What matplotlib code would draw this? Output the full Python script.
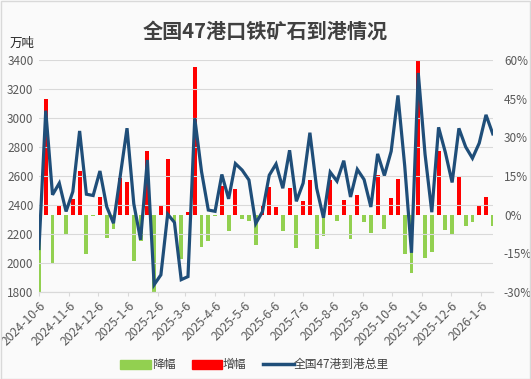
import matplotlib
matplotlib.use("Agg")
import matplotlib.pyplot as plt
from matplotlib.patches import Rectangle
from matplotlib.lines import Line2D
import pandas as pd

plt.rcParams['font.family'] = ['Noto Sans CJK SC', 'DejaVu Sans']
plt.rcParams['axes.unicode_minus'] = False

# weekly, starting 2024-10-6
weeks = pd.date_range('2024-10-06', periods=68, freq='7D')

# 全国47港到港总量 (万吨)
total = [2100, 3050, 2470, 2550, 2355, 2492, 2910, 2474, 2465, 2634,
         2388, 2274, 2600, 2929, 2408, 2160, 2710, 1850, 1918, 2336,
         2280, 1885, 1906, 2998, 2630, 2365, 2356, 2610, 2442, 2685,
         2640, 2572, 2272, 2354, 2605, 2682, 2515, 2777, 2425, 2550,
         2898, 2515, 2312, 2626, 2564, 2705, 2455, 2645, 2575, 2386,
         2752, 2603, 2770, 3155, 2669, 2070, 3310, 2750, 2350, 2935,
         2762, 2555, 2928, 2800, 2722, 2826, 3021, 2890]

# 环比 (%)
change = [-30, 45, -19, 3.2, -7.7, 6, 17, -15.2, -0.5, 6.8,
          -9.2, -5.5, 14.2, 12.7, -17.8, -10.4, 24.5, -32, 3.7, 21.6,
          -2.6, -17.4, 1.2, 57.4, -12.4, -10.2, -0.5, 11, -6.5, 9.8,
          -1.7, -2.6, -11.7, 3.5, 10.7, 3, -6.3, 10.3, -12.8, 5.2,
          13.6, -13.3, -8.2, 13.5, -2.4, 5.5, -9.3, 7.7, -2.9, -7.3,
          15.3, -5.4, 6.4, 13.9, -15.4, -22.5, 59.8, -16.9, -14.5, 24.6,
          -5.9, -7.5, 14.6, -4.4, -2.8, 3.8, 6.9, -4.3]

left_ticks = [1800, 2000, 2200, 2400, 2600, 2800, 3000, 3200, 3400]
right_ticks = [-30, -15, 0, 15, 30, 45, 60]
month_ticks = pd.date_range('2024-10-01', '2026-01-01', freq='MS') + pd.Timedelta(days=5)

bg = '#FAFAFA'
txt = '#595959'
green = '#92D050'
red = '#FF0000'
navy = '#1F4E79'

fig = plt.figure(figsize=(5.31, 3.79), dpi=100, facecolor=bg)
ax = fig.add_axes([0.0734, 0.2296, 0.8546, 0.6124])
ax2 = ax.twinx()

up = [c if c > 0 else 0 for c in change]
down = [c if c < 0 else 0 for c in change]
ax2.bar(weeks, down, width=4, color=green, label='降幅')
ax2.bar(weeks, up, width=4, color=red, label='增幅')
ax2.set_ylim(-30, 60)
ax2.set_yticks(right_ticks)
ax2.set_yticklabels([f'{t}%' for t in right_ticks])

ax.plot(weeks, total, color=navy, lw=2.3, solid_joinstyle='miter', label='全国47港到港总里')
ax.set_ylim(1800, 3400)
ax.set_yticks(left_ticks)
ax.grid(axis='y', color='#D9D9D9', lw=0.8)
ax.set_zorder(ax2.get_zorder() + 1)
ax.patch.set_visible(False)
ax2.set_facecolor(bg)

ax.set_xlim(weeks[0], weeks[-1])
ax.set_xticks(month_ticks)
ax.set_xticklabels([f'{d.year}-{d.month}-{d.day}' for d in month_ticks],
                   rotation=45, ha='right', rotation_mode='anchor')

for a in (ax, ax2):
    for s in ('left', 'right', 'top'):
        a.spines[s].set_visible(False)
    a.spines['bottom'].set_color('#D9D9D9')
    a.tick_params(axis='y', length=0, labelsize=8.5, colors=txt, pad=4)
ax.tick_params(axis='x', length=3, color='#D9D9D9', labelsize=8.8, labelcolor=txt, pad=2)
ax2.tick_params(axis='y', pad=8)

fig.text(0.5, 0.918, '全国47港口铁矿石到港情况', ha='center', va='center',
         fontsize=14.5, fontweight='bold', color='#404040')
fig.text(0.042, 0.885, '万吨', ha='center', va='center', fontsize=9, color='#262626')

handles = [Rectangle((0, 0), 1, 1, color=green), Rectangle((0, 0), 1, 1, color=red),
           Line2D([0], [0], color=navy, lw=2.5)]
fig.legend(handles, ['降幅', '增幅', '全国47港到港总里'], loc='center', ncol=3,
           bbox_to_anchor=(0.48, 0.037), frameon=False, fontsize=8.5,
           labelcolor='#404040', handlelength=2.6, handleheight=0.9,
           columnspacing=1.4, handletextpad=0.05)

fig.patches.append(Rectangle((0.001, 0.001), 0.997, 0.997, transform=fig.transFigure,
                             fill=False, edgecolor='#D9D9D9', lw=1))

fig.savefig('out.png', dpi=100, facecolor=bg)
